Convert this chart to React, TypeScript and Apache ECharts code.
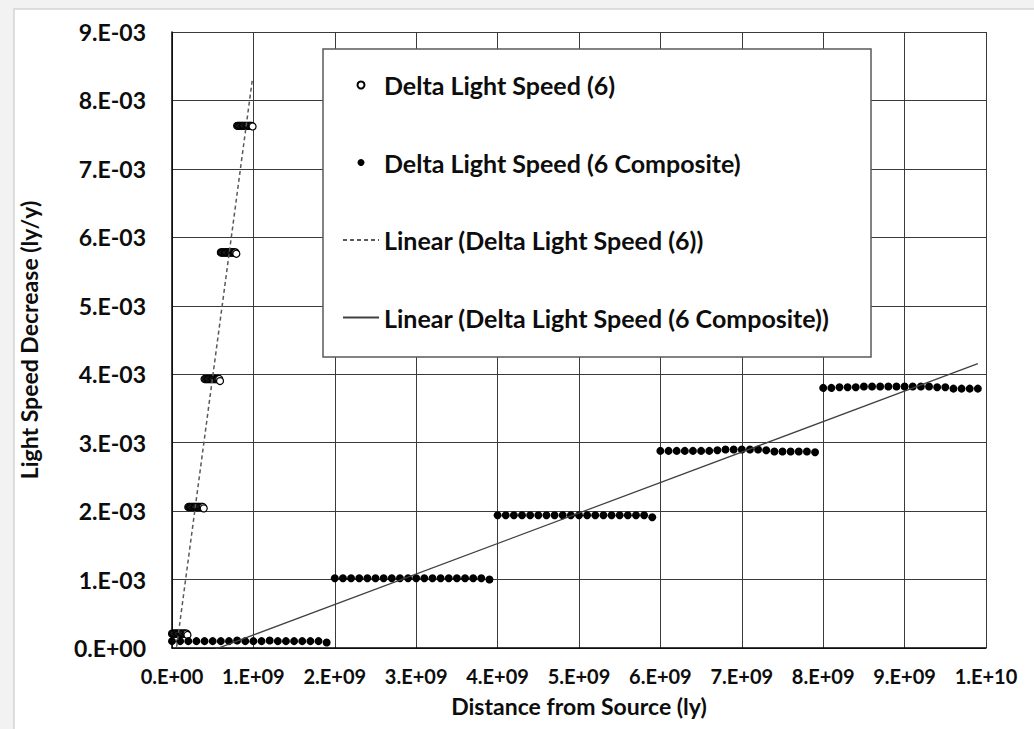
import React, { useEffect, useRef } from "react";
import * as echarts from "echarts";

// point index within each series (0..99)
const pointIndex = [
  0, 1, 2, 3, 4, 5, 6, 7, 8, 9, 10, 11, 12, 13, 14, 15, 16, 17, 18, 19,
  20, 21, 22, 23, 24, 25, 26, 27, 28, 29, 30, 31, 32, 33, 34, 35, 36, 37, 38, 39,
  40, 41, 42, 43, 44, 45, 46, 47, 48, 49, 50, 51, 52, 53, 54, 55, 56, 57, 58, 59,
  60, 61, 62, 63, 64, 65, 66, 67, 68, 69, 70, 71, 72, 73, 74, 75, 76, 77, 78, 79,
  80, 81, 82, 83, 84, 85, 86, 87, 88, 89, 90, 91, 92, 93, 94, 95, 96, 97, 98, 99,
];
// distance spacing (ly) between consecutive points
const spacing6 = 1e7;
const spacingComposite = 1e8;

// Delta Light Speed (6), values in units of 1e-3 ly/y
const delta6 = [
  0.21, 0.21, 0.21, 0.21, 0.21, 0.21, 0.21, 0.21, 0.21, 0.21, 0.21, 0.21, 0.21, 0.21, 0.21, 0.21, 0.21, 0.21, 0.21, 0.19,
  2.06, 2.06, 2.06, 2.06, 2.06, 2.06, 2.06, 2.06, 2.06, 2.06, 2.06, 2.06, 2.06, 2.06, 2.06, 2.06, 2.06, 2.06, 2.06, 2.04,
  3.93, 3.93, 3.93, 3.93, 3.93, 3.93, 3.93, 3.93, 3.93, 3.93, 3.93, 3.93, 3.93, 3.93, 3.93, 3.93, 3.93, 3.93, 3.93, 3.90,
  5.78, 5.78, 5.78, 5.78, 5.78, 5.78, 5.78, 5.78, 5.78, 5.78, 5.78, 5.78, 5.78, 5.78, 5.78, 5.78, 5.78, 5.78, 5.78, 5.76,
  7.63, 7.63, 7.63, 7.63, 7.63, 7.63, 7.63, 7.63, 7.63, 7.63, 7.63, 7.63, 7.63, 7.63, 7.63, 7.63, 7.63, 7.63, 7.63, 7.62,
];

// Delta Light Speed (6 Composite), values in units of 1e-3 ly/y
const deltaComposite = [
  0.10, 0.10, 0.10, 0.10, 0.10, 0.10, 0.10, 0.10, 0.11, 0.10, 0.10, 0.10, 0.11, 0.10, 0.10, 0.10, 0.10, 0.10, 0.10, 0.08,
  1.02, 1.02, 1.02, 1.02, 1.02, 1.02, 1.02, 1.02, 1.02, 1.02, 1.02, 1.02, 1.02, 1.02, 1.02, 1.02, 1.02, 1.02, 1.02, 1.00,
  1.94, 1.94, 1.94, 1.94, 1.94, 1.94, 1.94, 1.94, 1.94, 1.94, 1.94, 1.94, 1.94, 1.94, 1.94, 1.94, 1.94, 1.94, 1.94, 1.91,
  2.88, 2.88, 2.88, 2.88, 2.88, 2.88, 2.88, 2.89, 2.90, 2.90, 2.90, 2.90, 2.90, 2.89, 2.87, 2.87, 2.87, 2.87, 2.87, 2.86,
  3.80, 3.80, 3.81, 3.81, 3.81, 3.82, 3.82, 3.82, 3.82, 3.82, 3.82, 3.82, 3.82, 3.82, 3.81, 3.81, 3.79, 3.79, 3.79, 3.79,
];
const yUnit = 1e-3;

const seriesNames = [
  "Delta Light Speed (6)",
  "Delta Light Speed (6 Composite)",
  "Linear (Delta Light Speed (6))",
  "Linear (Delta Light Speed (6 Composite))",
];

const xAxisTitle = "Distance from Source (ly)";
const yAxisTitle = "Light Speed Decrease (ly/y)";

function sci(v: number): string {
  if (Math.abs(v) < 1e-15) return "0.E+00";
  const e = Math.floor(Math.log10(Math.abs(v)) + 1e-9);
  const m = Math.round(v / Math.pow(10, e));
  const sign = e < 0 ? "-" : "+";
  return `${m}.E${sign}${String(Math.abs(e)).padStart(2, "0")}`;
}

function linearFit(pts: number[][]) {
  const n = pts.length;
  let sx = 0, sy = 0, sxx = 0, sxy = 0;
  for (const [x, y] of pts) {
    sx += x; sy += y; sxx += x * x; sxy += x * y;
  }
  const b = (n * sxy - sx * sy) / (n * sxx - sx * sx);
  const a = (sy - b * sx) / n;
  const xs = pts.map((p) => p[0]);
  const x0 = Math.min(...xs);
  const x1 = Math.max(...xs);
  return [[x0, a + b * x0], [x1, a + b * x1]];
}

const FONT = "Lato";
const INK = "#0d0d0d";

export default function App() {
  const ref = useRef<HTMLDivElement>(null);
  useEffect(() => {
    if (!ref.current) return;
    const chart = echarts.init(ref.current, undefined, { renderer: "svg" });
    const pts6 = pointIndex.map((i, k) => [i * spacing6, delta6[k] * yUnit]);
    const ptsC = pointIndex.map((i, k) => [i * spacingComposite, deltaComposite[k] * yUnit]);
    const fit6 = linearFit(pts6);
    const fitC = linearFit(ptsC);

    chart.setOption({
      animation: false,
      backgroundColor: "#f2f2f2",
      textStyle: { fontFamily: FONT },
      grid: { left: 172, right: 48, top: 32, bottom: 81 },
      graphic: [
        {
          type: "rect",
          z: -10,
          shape: { x: 14, y: 9, width: 1040, height: 740 },
          style: { fill: "#ffffff", stroke: "#d4d4d4", lineWidth: 1.5 },
        },
        {
          type: "rect",
          z: 5,
          shape: { x: 323, y: 49, width: 548, height: 308 },
          style: { fill: "#ffffff", stroke: "#595959", lineWidth: 1.5 },
        },
      ],
      legend: {
        orient: "vertical",
        left: 342,
        top: 70,
        padding: 0,
        z: 10,
        itemWidth: 36,
        itemHeight: 7,
        itemGap: 47.5,
        textStyle: { fontFamily: FONT, fontWeight: "bold", fontSize: 25, color: INK, lineHeight: 30 },
        data: [
          { name: seriesNames[0] },
          { name: seriesNames[1] },
          { name: seriesNames[2], itemStyle: { opacity: 0 } },
          { name: seriesNames[3], itemStyle: { opacity: 0 } },
        ],
      },
      xAxis: {
        type: "value",
        min: 0,
        max: 1e10,
        interval: 1e9,
        name: xAxisTitle,
        nameLocation: "middle",
        nameGap: 46,
        nameTextStyle: { fontFamily: FONT, fontWeight: "bold", fontSize: 23, color: INK },
        axisLine: { show: true, onZero: false, lineStyle: { color: "#000", width: 1.5 } },
        axisTick: { show: false },
        axisLabel: {
          formatter: (v: number) => sci(v),
          margin: 18,
          fontFamily: FONT,
          fontWeight: "bold",
          fontSize: 20,
          color: INK,
        },
        splitLine: { show: true, lineStyle: { color: "#3a3a3a", width: 1 } },
      },
      yAxis: {
        type: "value",
        min: 0,
        max: 0.009,
        interval: 0.001,
        name: yAxisTitle,
        nameLocation: "middle",
        nameRotate: 90,
        nameGap: 132,
        nameTextStyle: { fontFamily: FONT, fontWeight: "bold", fontSize: 23, color: INK },
        axisLine: { show: true, onZero: false, lineStyle: { color: "#000", width: 1.5 } },
        axisTick: { show: false },
        axisLabel: {
          formatter: (v: number) => sci(v),
          margin: 26,
          fontFamily: FONT,
          fontWeight: "bold",
          fontSize: 23,
          color: INK,
        },
        splitLine: { show: true, lineStyle: { color: "#3a3a3a", width: 1 } },
      },
      series: [
        {
          name: seriesNames[0],
          type: "scatter",
          data: pts6,
          symbol: "circle",
          symbolSize: 7,
          itemStyle: { color: "#ffffff", borderColor: "#000000", borderWidth: 1.2, opacity: 1 },
          z: 3,
        },
        {
          name: seriesNames[1],
          type: "scatter",
          data: ptsC,
          symbol: "circle",
          symbolSize: 8,
          itemStyle: { color: "#000000", opacity: 1 },
          z: 3,
        },
        {
          name: seriesNames[2],
          type: "line",
          data: fit6,
          symbol: "none",
          clip: true,
          itemStyle: { color: "#595959" },
          lineStyle: { color: "#595959", width: 1.5, type: [4, 3] },
          z: 4,
        },
        {
          name: seriesNames[3],
          type: "line",
          data: fitC,
          symbol: "none",
          clip: true,
          itemStyle: { color: "#404040" },
          lineStyle: { color: "#404040", width: 1.25, type: "solid" },
          z: 4,
        },
      ],
    });
    return () => chart.dispose();
  }, []);
  return (
    <div
      ref={ref}
      style={{ position: "fixed", left: 0, top: 0, width: 1034, height: 729 }}
    />
  );
}
